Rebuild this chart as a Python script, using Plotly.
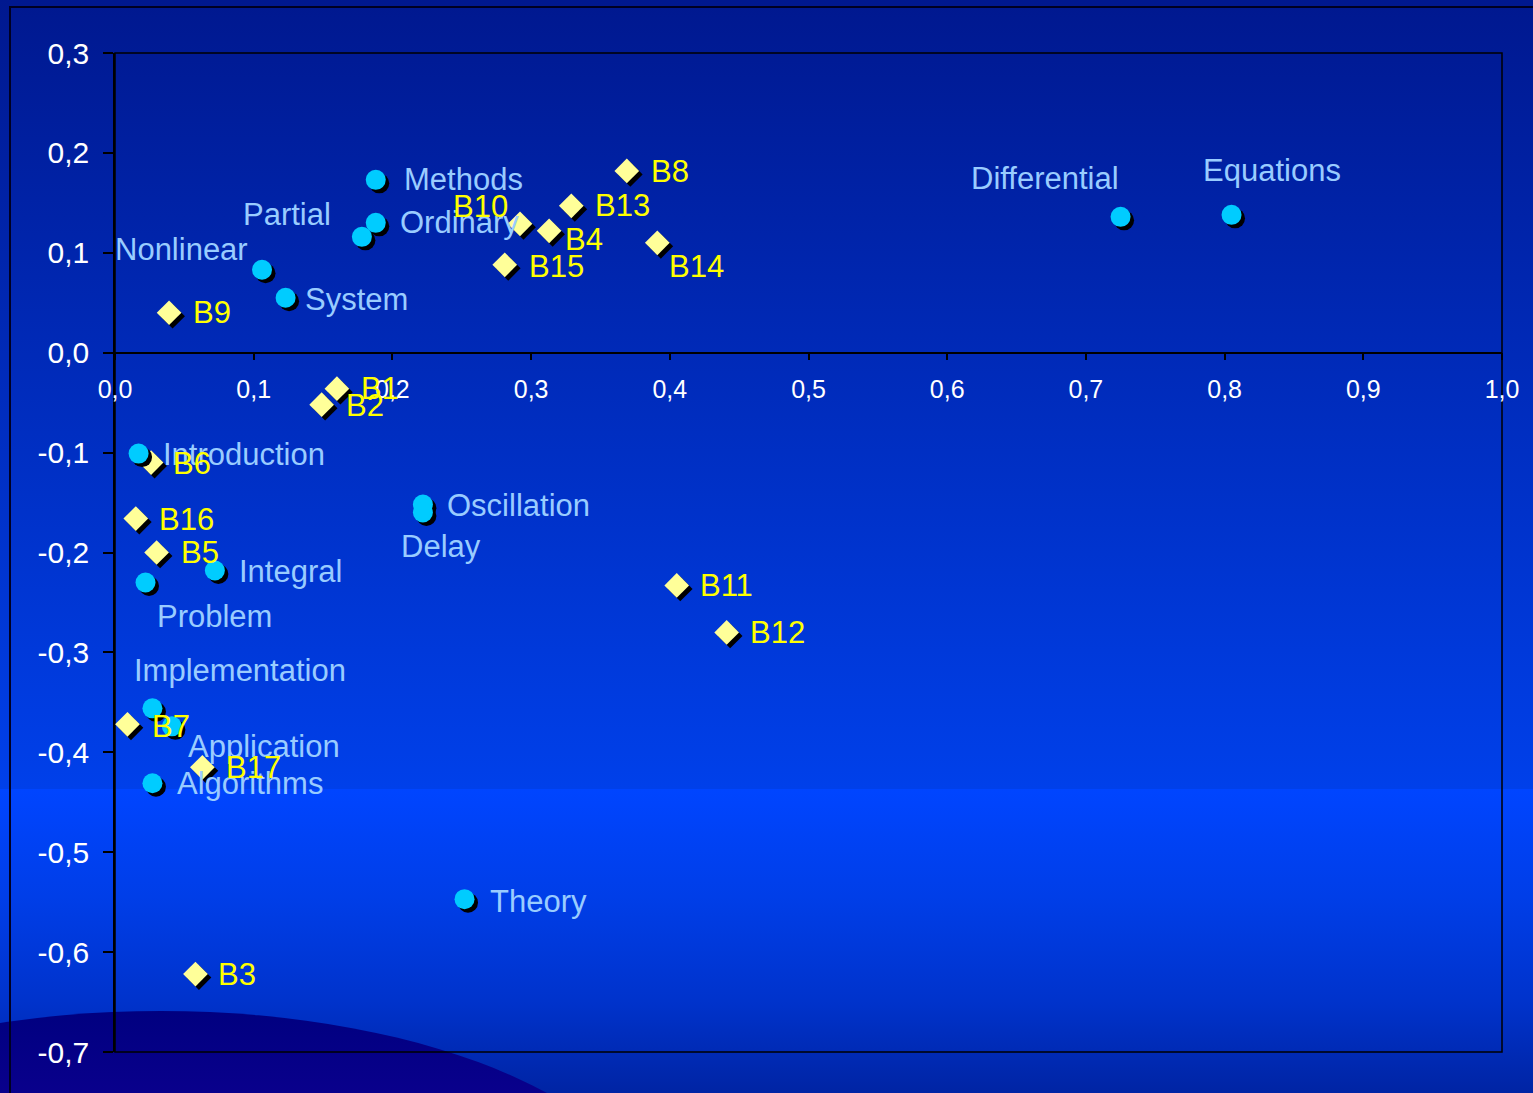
import base64
import plotly.graph_objects as go

# ---- data: term points (circles) ----
term_names = ["Methods", "Ordinary", "Partial", "Nonlinear", "System", "Differential",
              "Equations", "Introduction", "Oscillation", "Delay", "Integral", "Problem",
              "Implementation", "Application", "Algorithms", "Theory"]
term_x = [0.188, 0.188, 0.178, 0.106, 0.123, 0.725, 0.805, 0.017, 0.222, 0.222,
          0.072, 0.022, 0.027, 0.041, 0.027, 0.252]
term_y = [0.173, 0.130, 0.116, 0.083, 0.055, 0.136, 0.138, -0.101, -0.152, -0.160,
          -0.218, -0.230, -0.356, -0.374, -0.431, -0.547]

# ---- data: document points (diamonds) ----
doc_names = ["B1", "B2", "B3", "B4", "B5", "B6", "B7", "B8", "B9", "B10", "B11",
             "B12", "B13", "B14", "B15", "B16", "B17"]
doc_x = [0.160, 0.149, 0.058, 0.313, 0.030, 0.026, 0.009, 0.369, 0.039, 0.292, 0.405,
         0.441, 0.329, 0.391, 0.281, 0.015, 0.063]
doc_y = [-0.036, -0.052, -0.622, 0.122, -0.200, -0.110, -0.372, 0.182, 0.040, 0.129,
         -0.233, -0.280, 0.147, 0.110, 0.088, -0.166, -0.415]

# ---- axis ticks ----
x_ticks = [0.0, 0.1, 0.2, 0.3, 0.4, 0.5, 0.6, 0.7, 0.8, 0.9, 1.0]
x_tick_labels = ["0,0", "0,1", "0,2", "0,3", "0,4", "0,5", "0,6", "0,7", "0,8", "0,9", "1,0"]
y_ticks = [-0.7, -0.6, -0.5, -0.4, -0.3, -0.2, -0.1, 0.0, 0.1, 0.2, 0.3]
y_tick_labels = ["-0,7", "-0,6", "-0,5", "-0,4", "-0,3", "-0,2", "-0,1", "0,0", "0,1", "0,2", "0,3"]

# ---- label placement (pixel offsets from the marker, anchor side) ----
term_label_pos = {
    "Methods": ("left", 29, 0), "Ordinary": ("left", 25, 0), "Partial": ("right", -32, -22),
    "Nonlinear": ("right", -15, -20), "System": ("left", 20, 2),
    "Differential": ("right", -3, -38), "Equations": ("left", -28, -44),
    "Introduction": ("left", 25, 1), "Oscillation": ("left", 25, 1), "Delay": ("left", -21, 34),
    "Integral": ("left", 25, 1), "Problem": ("left", 12, 34),
    "Implementation": ("left", -17, -38), "Application": ("left", 17, 20),
    "Algorithms": ("left", 26, 0), "Theory": ("left", 26, 2),
}
doc_label_pos = {
    "B1": ("left", 25, 0), "B2": ("left", 25, 1), "B3": ("left", 24, 0), "B4": ("left", 17, 9),
    "B5": ("left", 25, 0), "B6": ("left", 23, 1), "B7": ("left", 26, 2), "B8": ("left", 25, 1),
    "B9": ("left", 25, 0), "B10": ("right", -13, -17), "B11": ("left", 24, 0),
    "B12": ("left", 24, 0), "B13": ("left", 25, 0), "B14": ("left", 13, 24),
    "B15": ("left", 25, 2), "B16": ("left", 24, 1), "B17": ("left", 25, 0),
}
LABEL_PAD = 3  # annotation box padding to compensate for

# ---- geometry & style ----
W, H = 1533, 1093
M_L, M_R, M_T, M_B = 115, 31, 53, 41
PW, PH = W - M_L - M_R, H - M_T - M_B
X_RANGE = [0.0, 1.0]
Y_RANGE = [-0.7, 0.3]
FONT = "Liberation Sans, Arial, sans-serif"
SHADOW_PX = 3.5
sdx = SHADOW_PX / PW * (X_RANGE[1] - X_RANGE[0])
sdy = SHADOW_PX / PH * (Y_RANGE[1] - Y_RANGE[0])

# slide-style background: vertical gradient, a bright lower band and a dark swoosh
svg = f"""<svg xmlns='http://www.w3.org/2000/svg' width='{W}' height='{H}' viewBox='0 0 {W} {H}' preserveAspectRatio='none'>
<defs>
<linearGradient id='bg' x1='0' y1='0' x2='0' y2='1'>
<stop offset='0' stop-color='#00188f'/>
<stop offset='0.7215' stop-color='#0040ea'/>
<stop offset='0.7215' stop-color='#0045ff'/>
<stop offset='0.82' stop-color='#003ee8'/>
<stop offset='0.915' stop-color='#0033cc'/>
<stop offset='1' stop-color='#0024a4'/>
</linearGradient>
<linearGradient id='sw' x1='0' y1='0' x2='0' y2='1'>
<stop offset='0' stop-color='#000080'/>
<stop offset='0.4' stop-color='#14009a'/>
<stop offset='1' stop-color='#1e00b0'/>
</linearGradient>
</defs>
<rect x='0' y='0' width='{W}' height='{H}' fill='url(#bg)'/>
<ellipse cx='161' cy='1236' rx='500' ry='225' fill='url(#sw)'/>
</svg>"""
bg_uri = "data:image/svg+xml;base64," + base64.b64encode(svg.encode()).decode()

fig = go.Figure()

def add_series(xs, ys, symbol, color, size):
    # black drop shadow first, then the coloured marker on top
    fig.add_trace(go.Scatter(
        x=[v + sdx for v in xs], y=[v - sdy for v in ys], mode="markers",
        marker=dict(symbol=symbol, size=size, color="#000000", line=dict(width=0)),
        hoverinfo="skip", showlegend=False))
    fig.add_trace(go.Scatter(
        x=xs, y=ys, mode="markers",
        marker=dict(symbol=symbol, size=size, color=color, line=dict(width=0)),
        showlegend=False))

add_series(doc_x, doc_y, "diamond", "#ffff99", 19)
add_series(term_x, term_y, "circle", "#00ccff", 20)

annotations = []
for names, xs, ys, pos, col in [
    (term_names, term_x, term_y, term_label_pos, "#99ccff"),
    (doc_names, doc_x, doc_y, doc_label_pos, "#ffff00"),
]:
    for n, x, y in zip(names, xs, ys):
        anchor, dx, dy = pos[n]
        dx = dx - LABEL_PAD if anchor == "left" else dx + LABEL_PAD
        annotations.append(dict(
            x=x, y=y, xref="x", yref="y", text=n, showarrow=False,
            xanchor=anchor, yanchor="middle", xshift=dx, yshift=-dy,
            font=dict(family=FONT, size=31, color=col)))

fig.update_layout(
    width=W, height=H,
    margin=dict(l=M_L, r=M_R, t=M_T, b=M_B),
    paper_bgcolor="#0030c8",
    plot_bgcolor="rgba(0,0,0,0)",
    images=[dict(source=bg_uri, xref="paper", yref="paper",
                 x=-M_L / PW, y=1 + M_T / PH, sizex=W / PW, sizey=H / PH,
                 xanchor="left", yanchor="top", sizing="stretch", layer="below")],
    xaxis=dict(range=X_RANGE, anchor="free", position=0.7,
               showgrid=False, zeroline=False, showline=True, linecolor="#000000", linewidth=1.5,
               ticks="outside", ticklen=7, tickwidth=1.5, tickcolor="#000000",
               tickvals=x_ticks, ticktext=x_tick_labels, ticklabelstandoff=8,
               tickfont=dict(family=FONT, size=25, color="#ffffff")),
    yaxis=dict(range=Y_RANGE, showgrid=False, zeroline=False,
               showline=True, linecolor="#000000", linewidth=1.5,
               ticks="outside", ticklen=10, tickwidth=1.5, tickcolor="#000000",
               tickvals=y_ticks, ticktext=y_tick_labels, ticklabelstandoff=8,
               tickfont=dict(family=FONT, size=30, color="#ffffff")),
    annotations=annotations,
    shapes=[
        # plot frame
        dict(type="rect", xref="paper", yref="paper", x0=0, x1=1, y0=0, y1=1,
             line=dict(color="#000000", width=1.5), layer="below"),
        # outer chart border
        dict(type="rect", xref="paper", yref="paper",
             x0=(10 - M_L) / PW, x1=(W + 20 - M_L) / PW,
             y0=-(M_B + 20) / PH, y1=1 + (M_T - 7) / PH,
             line=dict(color="#000022", width=2), layer="below"),
    ],
    showlegend=False,
)

fig.write_html("out.html")
